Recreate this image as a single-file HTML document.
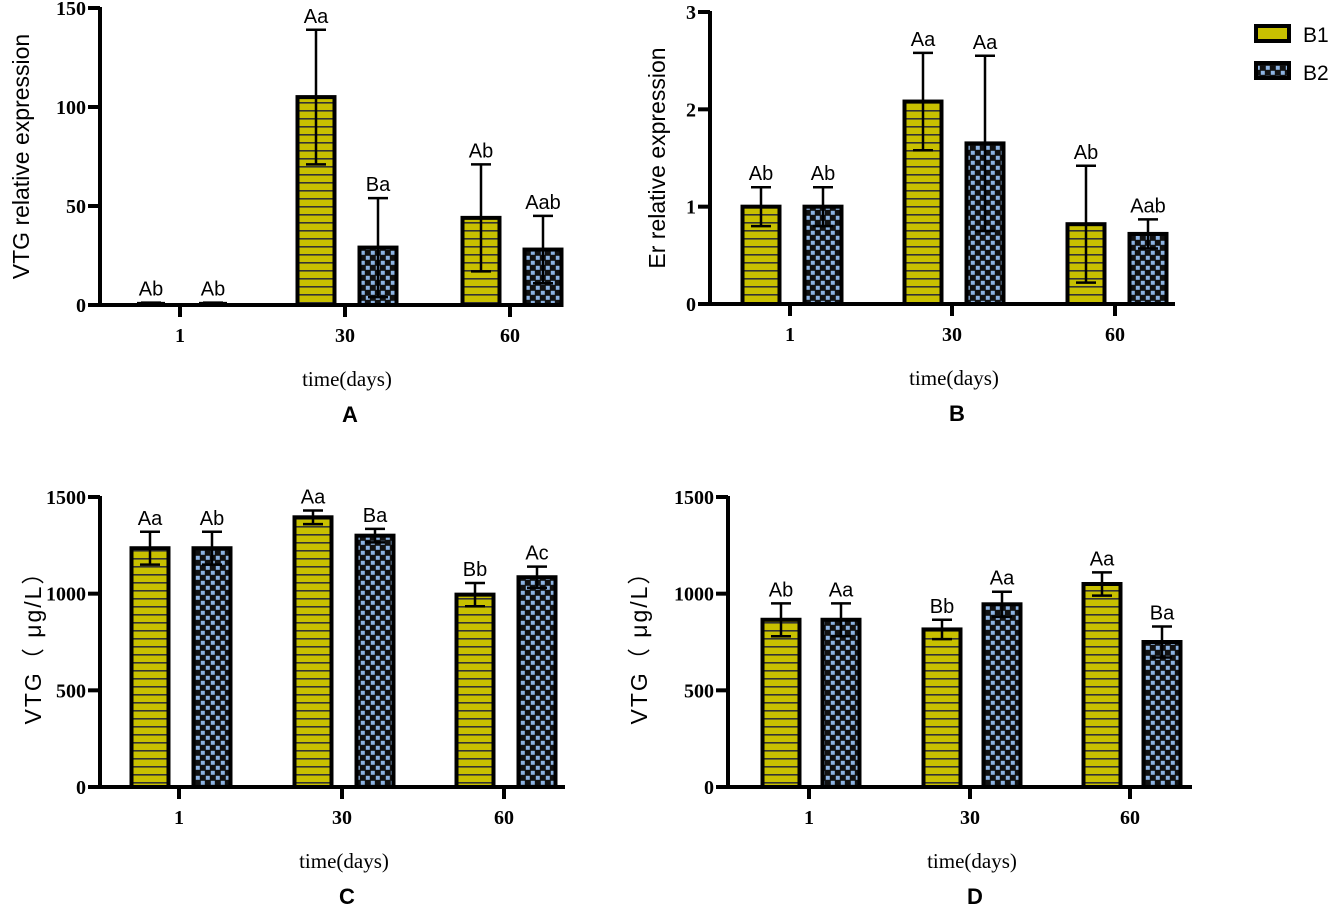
<!DOCTYPE html>
<html><head><meta charset="utf-8"><style>
body{margin:0;background:#fff}
svg text{font-family:"Liberation Sans",Arial,sans-serif}
.tick{font-family:"Liberation Serif",serif;font-weight:bold;font-size:20px}
.xl{font-family:"Liberation Serif",serif;font-size:21px}
</style></head><body>
<svg id="c" width="1332" height="912" xmlns="http://www.w3.org/2000/svg">
<defs>
<pattern id="hz" width="8" height="8" patternUnits="userSpaceOnUse"><rect width="8" height="8" fill="#c8c000"/><rect y="6" width="8" height="1.6" fill="#333"/></pattern>
<pattern id="ck" width="10" height="10" patternUnits="userSpaceOnUse"><rect width="10" height="10" fill="#111"/><rect x="0.8" y="0.8" width="4" height="4" fill="#8db3e2"/><rect x="5.8" y="5.8" width="4" height="4" fill="#8db3e2"/></pattern>
</defs>
</svg>
<script>
const categories=["1","30","60"];
const aB1=[0.8,105,44], aB1sd=[0.4,34,27], aB2=[0.8,29,28], aB2sd=[0.4,25,17];
const aL1=["Ab","Aa","Ab"], aL2=["Ab","Ba","Aab"];
const bB1=[1.0,2.08,0.82], bB1sd=[0.2,0.5,0.6], bB2=[1.0,1.65,0.72], bB2sd=[0.2,0.9,0.15];
const bL1=["Ab","Aa","Ab"], bL2=["Ab","Aa","Aab"];
const cB1=[1235,1395,995], cB1sd=[85,35,60], cB2=[1235,1300,1085], cB2sd=[85,35,55];
const cL1=["Aa","Aa","Bb"], cL2=["Ab","Ba","Ac"];
const dB1=[865,815,1050], dB1sd=[85,50,60], dB2=[865,945,750], dB2sd=[85,65,80];
const dL1=["Ab","Bb","Aa"], dL2=["Aa","Aa","Ba"];
const aTicks=[0,50,100,150], bTicks=[0,1,2,3], cTicks=[0,500,1000,1500];
const NS="http://www.w3.org/2000/svg", svg=document.getElementById('c');
function mk(t,a,txt){const e=document.createElementNS(NS,t);for(const k in a)e.setAttribute(k,a[k]);if(txt!==undefined)e.textContent=txt;svg.appendChild(e);return e;}
function panel(p){
 const y=v=>p.y0-(v/p.max)*(p.y0-p.yT);
 const x=i=>p.cx[i];
 let e;
 e=mk('line',{x1:p.ax,y1:p.yT-1,x2:p.ax,y2:p.y0,stroke:'#000','stroke-width':4});
 
 e=mk('line',{x1:p.ax-2,y1:p.y0,x2:p.xEnd,y2:p.y0,stroke:'#000','stroke-width':4});
 
 p.ticks.forEach(t=>{mk('line',{x1:p.ax-12,y1:y(t),x2:p.ax,y2:y(t),stroke:'#000','stroke-width':4});
  e=mk('text',{x:p.ax-14,y:y(t)+7,'text-anchor':'end',class:'tick'},t);
  });
 categories.forEach((c,i)=>{mk('line',{x1:x(i)-2,y1:p.y0,x2:x(i)-2,y2:p.y0+12,stroke:'#000','stroke-width':4});
  e=mk('text',{x:x(i)-2,y:p.y0+37,'text-anchor':'middle',class:'tick'},c);
  
  [[p.v1,p.s1,p.l1,-p.off,'url(#hz)'],[p.v2,p.s2,p.l2,p.off,'url(#ck)']].forEach(([v,s,l,o,f],k)=>{
   const cx=x(i)+o,bw=37,top=y(v[i]);
   if(p.y0-top>3){e=mk('rect',{x:cx-bw/2,y:top,width:bw,height:p.y0-top,fill:f,stroke:'#000','stroke-width':4});}
   else{e=mk('line',{x1:cx-14,y1:top,x2:cx+14,y2:top,stroke:'#000','stroke-width':3});}
   
   const hi=y(v[i]+s[i]),lo=y(Math.max(0,v[i]-s[i]));
   e=mk('path',{d:`M${cx} ${lo}V${hi}M${cx-10} ${hi}H${cx+10}M${cx-10} ${lo}H${cx+10}`,stroke:'#000','stroke-width':2.5,fill:'none'});
   
   e=mk('text',{x:cx,y:hi-7,'text-anchor':'middle','font-size':20},l[i]);
   
  });
 });
 e=mk('text',{x:p.ylx,y:(p.y0+p.yT)/2,'text-anchor':'middle','font-size':23,'letter-spacing':p.ls||0,transform:`rotate(-90 ${p.ylx} ${(p.y0+p.yT)/2})`},p.ylab);
 
 e=mk('text',{x:p.cx[1],y:p.y0+81,'text-anchor':'middle',class:'xl'},'time(days)');
 
 e=mk('text',{x:p.cx[1]+3,y:p.y0+117,'text-anchor':'middle','font-size':22,'font-weight':'bold'},p.letter);
 
}
panel({id:'panel-a',ax:100,y0:305,yT:8,max:150,xEnd:560,cx:[182,347,512],off:31,ticks:aTicks,v1:aB1,s1:aB1sd,v2:aB2,s2:aB2sd,l1:aL1,l2:aL2,ylab:'VTG relative expression',ylx:29,letter:'A'});
panel({id:'panel-b',ax:710,y0:304,yT:12,max:3,xEnd:1175,cx:[792,954,1117],off:31,ticks:bTicks,v1:bB1,s1:bB1sd,v2:bB2,s2:bB2sd,l1:bL1,l2:bL2,ylab:'Er relative expression',ylx:665,letter:'B'});
panel({id:'panel-c',ax:100,y0:787,yT:497,max:1500,xEnd:565,cx:[181,344,506],off:31,ticks:cTicks,v1:cB1,s1:cB1sd,v2:cB2,s2:cB2sd,l1:cL1,l2:cL2,ylab:'VTG（ μg/L）',ylx:41,ls:2,letter:'C'});
panel({id:'panel-d',ax:728,y0:787,yT:497,max:1500,xEnd:1192,cx:[811,972,1132],off:30,ticks:cTicks,v1:dB1,s1:dB1sd,v2:dB2,s2:dB2sd,l1:dL1,l2:dL2,ylab:'VTG（ μg/L）',ylx:647,ls:2,letter:'D'});
let e;
e=mk('rect',{x:1256,y:26,width:33,height:15,fill:'#c8c000',stroke:'#000','stroke-width':4});

e=mk('text',{x:1303,y:42,'font-size':21},'B1');

e=mk('rect',{x:1256,y:63,width:33,height:15,fill:'url(#ck)',stroke:'#000','stroke-width':4});

e=mk('text',{x:1303,y:80,'font-size':21},'B2');

</script>
</body></html>
